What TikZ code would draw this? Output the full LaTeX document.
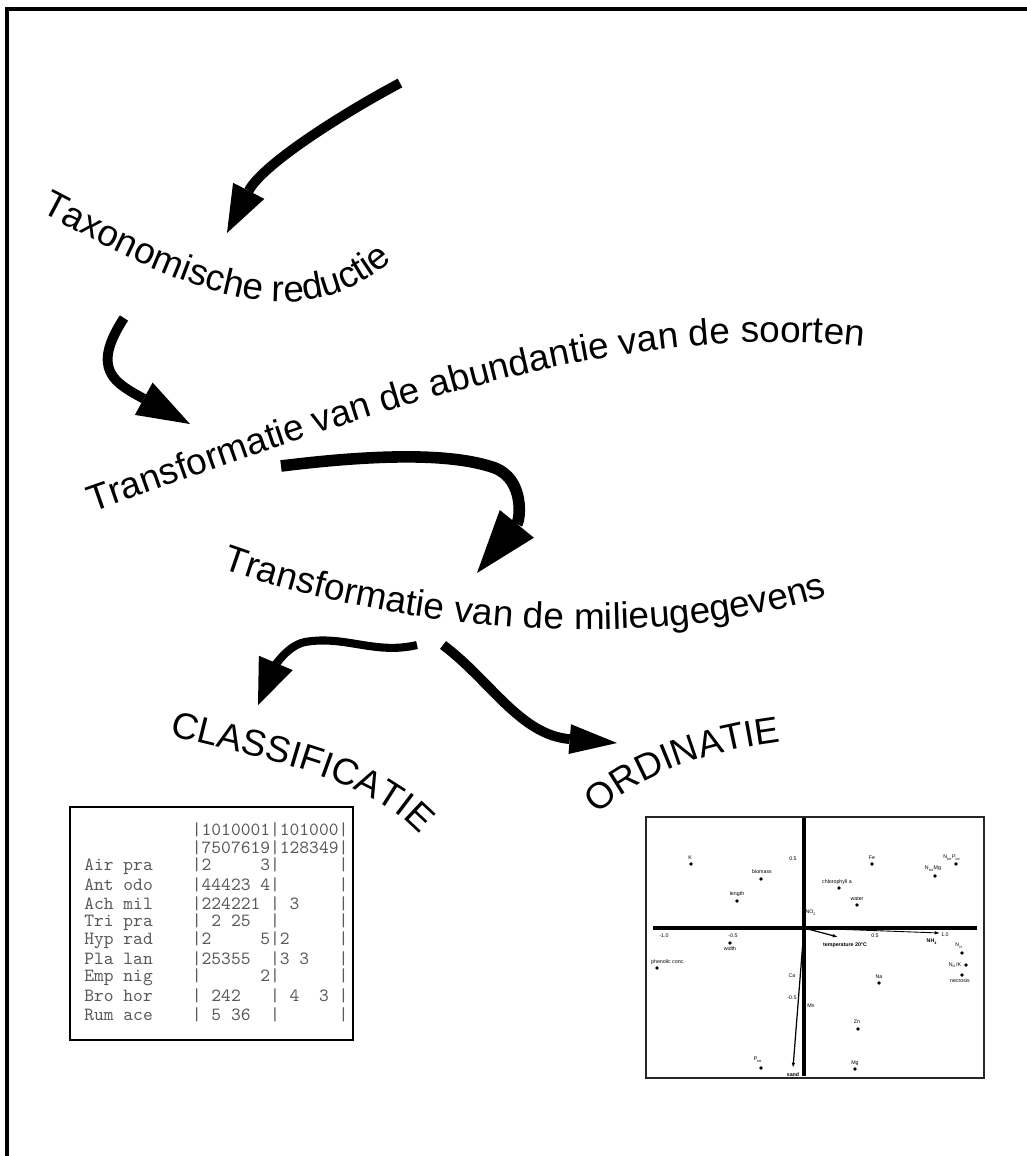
\documentclass[tikz,border=0pt]{standalone}
\usepackage{fontspec}
\setmainfont{Liberation Sans}
\usetikzlibrary{arrows.meta,decorations.text}
\tikzstyle{flow}=[line width=5.6pt, -{Triangle[length=27pt,width=20pt,line width=0pt]}]
\tikzstyle{curved}=[decorate, decoration={text along path, text align=left}]
\tikzstyle{tabrow}=[anchor=west, inner sep=0pt, font=\ttfamily\fontsize{10.6}{11}\selectfont, text=black!65]
\tikzstyle{ordlbl}=[inner sep=0.3pt, font=\fontsize{3}{3.5}\selectfont]
\tikzstyle{ordaxis}=[line width=2.8pt]
\tikzstyle{envarrow}=[line width=0.7pt, -{Latex[length=3pt,width=2pt]}]
\newcommand{\bigtext}{\fontsize{21}{25}\selectfont}

\begin{document}
\begin{tikzpicture}[x=0.02cm, y=-0.02cm]
	\useasboundingbox (0,0) rectangle (1027,1156);
	\draw[line width=2pt] (7,1156) -- (7,9) -- (1027,9);

	% arrow ends
	\coordinate (start) at (400,83);
	\coordinate (taxo) at (227,233);
	\coordinate (taxoOut) at (124,318);
	\coordinate (abund) at (190,424);
	\coordinate (abundOut) at (281,466);
	\coordinate (milieu) at (477,573);
	\coordinate (milieuL) at (417,645);
	\coordinate (milieuR) at (443,645);
	\coordinate (classif) at (258,705);
	\coordinate (ordin) at (617,743);

	% curved titles
	\path[curved, decoration={text={|\bigtext|Taxonomische reductie}}] (40,212) .. controls (170,280) and (310,360) .. (412,240);
	\path[curved, decoration={text={|\bigtext|Transformatie van de abundantie van de soorten}}] (92,512) .. controls (330,430) and (620,310) .. (890,350);
	\path[curved, decoration={text={|\bigtext|Transformatie van de milieugegevens}}] (222,568) .. controls (380,625) and (640,660) .. (840,592);
	\path[curved, decoration={text={|\bigtext|CLASSIFICATIE}}] (170,735) .. controls (260,760) and (375,775) .. (428,845);
	\path[curved, decoration={text={|\bigtext|ORDINATIE}}] (598,815) .. controls (635,778) and (700,750) .. (795,740);

	% flow arrows
	\draw[flow] (start) .. controls (340,115) and (262,165) .. (taxo);
	\draw[flow, -{Triangle[length=30pt,width=21pt,line width=0pt]}] (taxoOut) .. controls (90,370) and (115,383) .. (abund);
	\draw[flow, line width=6.6pt, -{Triangle[length=36pt,width=25pt,line width=0pt]}] (abundOut) .. controls (370,455) and (450,452) .. (495,468) .. controls (525,480) and (520,520) .. (milieu);
	\draw[flow, line width=4.6pt, -{Triangle[length=26pt,width=21pt,line width=0pt]}] (milieuL) .. controls (375,655) and (345,635) .. (305,642) .. controls (285,646) and (272,672) .. (classif);
	\draw[flow, -{Triangle[length=27pt,width=17pt,line width=0pt]}] (milieuR) .. controls (490,680) and (520,735) .. (ordin);

	% table
	\draw[line width=1.4pt] (70,807) rectangle (353,1040);
	\foreach \row [count=\i] in {~~~~~~~~~~~|1010001|101000|, ~~~~~~~~~~~|7507619|128349|,
		Air~pra~~~~|2~~~~~3|~~~~~~|, Ant~odo~~~~|44423~4|~~~~~~|, Ach~mil~~~~|224221~|~3~~~~|,
		Tri~pra~~~~|~2~25~~|~~~~~~|, Hyp~rad~~~~|2~~~~~5|2~~~~~|, Pla~lan~~~~|25355~~|3~3~~~|,
		Emp~nig~~~~|~~~~~~2|~~~~~~|, Bro~hor~~~~|~242~~~|~4~~3~|, Rum~ace~~~~|~5~36~~|~~~~~~|}
		\node[tabrow] (row\i) at (84, {811+18.5*\i}) {\row};

	% ordination diagram
	\draw[line width=1pt, black!85] (646,817) rectangle (984,1078);
	\draw[ordaxis] (804,818) -- (804,1076);
	\draw[ordaxis] (653,928) -- (977,928);
	\coordinate (origin) at (804,928);
	\coordinate (temp) at (838,937);
	\coordinate (nh) at (940,933);
	\coordinate (sand) at (793,1068);
	\draw[envarrow] (origin) -- (temp);
	\draw[envarrow, line width=0.5pt] (origin) -- (nh);
	\draw[envarrow] (origin) -- (sand);
	\node[ordlbl, font=\fontsize{3}{3.5}\selectfont\bfseries] (templbl) at (845,945) {temperature 20°C};
	\node[ordlbl, font=\fontsize{3}{3.5}\selectfont\bfseries] (nhlbl) at (932,942) {NH\textsubscript{4}};
	\node[ordlbl, font=\fontsize{3}{3.5}\selectfont\bfseries] (sandlbl) at (793,1075) {sand};
	\node[ordlbl] (nolbl) at (811,913) {NO\textsubscript{2}};
	\node[ordlbl] (calbl) at (792,976) {Ca};
	\node[ordlbl] (mnlbl) at (811,1006) {Mn};
	\foreach \tx/\ty/\tt [count=\j] in {793/859/0.5, 792/998/-0.5, 664/936/-1.0, 733/936/-0.5, 875/936/0.5, 945/935/1.0}
		\node[ordlbl] (tick\j) at (\tx,\ty) {\tt};
	\foreach \dx/\dy/\lx/\ly/\nm/\txt in {691/864/690/858/k/K, 761/879/762/872/biomass/biomass,
		737/901/737/894/length/length, 730/943/730/949/width/width, 657/968/668/962/phenolic/phenolic conc.,
		872/864/872/858/fe/Fe, 956/864/952/858/ntp/N\textsubscript{tot}P\textsubscript{tot},
		935/876/933/869/ntmg/N\textsubscript{tot}Mg, 839/888/837/882/chl/chlorophyll a,
		857/905/857/899/water/water, 962/953/959/946/ncl/N\textsubscript{cl},
		962/975/960/981/necrosis/necrosis, 879/983/879/977/na/Na, 858/1029/857/1022/zn/Zn,
		855/1069/855/1063/mg/Mg, 761/1068/758/1060/ptot/P\textsubscript{tot}}
	{
		\fill (\dx,\dy) circle (1.1pt);
		\node[ordlbl] (\nm) at (\lx,\ly) {\txt};
	}
	\fill (966,965) circle (1.1pt);
	\node[ordlbl] (nclk) at (955,965) {N\textsubscript{cl}/K};
\end{tikzpicture}
\end{document}
